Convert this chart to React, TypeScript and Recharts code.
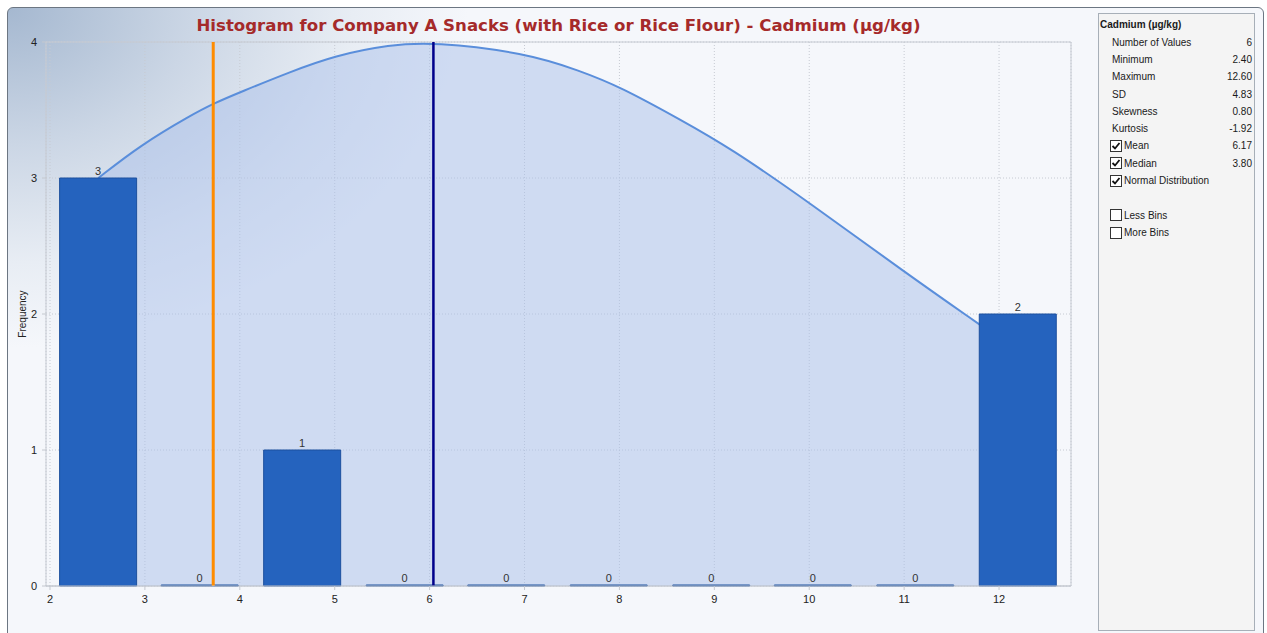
import React from "react";
import {
  ComposedChart, Bar, Area, XAxis, YAxis, CartesianGrid, ReferenceLine, ReferenceArea, LabelList,
} from "recharts";

// histogram bins (centres on the drawn axis) and their counts
const binCenters = [2.51, 3.58, 4.66, 5.74, 6.81, 7.89, 8.97, 10.04, 11.12, 12.2];
const binCounts = [3, 0, 1, 0, 0, 0, 0, 0, 0, 2];

// normal distribution curve
const curveX = [2.51, 2.95, 3.48, 3.73, 4.0, 4.53, 5.0, 5.58, 6.04, 7.01, 7.58, 8.01, 8.64, 9.17, 10.0, 11.0, 11.8];
const curveY = [3.0, 3.24, 3.46, 3.55, 3.63, 3.78, 3.9, 3.98, 4.0, 3.92, 3.79, 3.67, 3.43, 3.22, 2.82, 2.31, 1.92];

const xTicks = [2, 3, 4, 5, 6, 7, 8, 9, 10, 11, 12];
const yTicks = [0, 1, 2, 3, 4];
const xDomain: [number, number] = [1.958, 12.758];

// where the marker lines sit on the drawn axis
const medianLineX = 3.72;
const meanLineX = 6.04;

const title = "Histogram for Company A Snacks (with Rice or Rice Flour) - Cadmium (µg/kg)";
const statsTitle = "Cadmium (µg/kg)";
const statLabels = ["Number of Values", "Minimum", "Maximum", "SD", "Skewness", "Kurtosis"];
const statValues = ["6", "2.40", "12.60", "4.83", "0.80", "-1.92"];
const checkLabels = ["Mean", "Median", "Normal Distribution"];
const checkValues = ["6.17", "3.80", ""];
const binOptions = ["Less Bins", "More Bins"];

const bars = binCenters.map((x, i) => ({ x, count: binCounts[i] }));
const curve = curveX.map((x, i) => ({ x, freq: curveY[i] }));

const FONT = "'Liberation Sans', Arial, sans-serif";
const ROW = 17.3;

function Box({ checked }: { checked: boolean }) {
  return (
    <svg width={12} height={12} style={{ position: "absolute", left: 11, top: (ROW - 12) / 2 }}>
      <rect x={0.5} y={0.5} width={11} height={11} fill="#fff" stroke="#333" />
      {checked && <polyline points="2.5,6 5,8.5 9.5,3" fill="none" stroke="#111" strokeWidth={1.8} />}
    </svg>
  );
}

function StatsPanel() {
  const row = (i: number) => ({ position: "absolute" as const, left: 0, right: 2, top: 2.35 + ROW * i, height: ROW, lineHeight: `${ROW}px` });
  return (
    <div style={{
      position: "absolute", left: 1098, top: 13, width: 155, height: 616, background: "#f4f4f4",
      border: "1px solid #a7afb8", fontFamily: FONT, fontSize: 10, color: "#1a1a1a",
    }}>
      <div style={{ ...row(0), left: 1, fontWeight: "bold" }}>{statsTitle}</div>
      {statLabels.map((l, i) => (
        <div key={l} style={row(i + 1)}>
          <span style={{ position: "absolute", left: 13 }}>{l}</span>
          <span style={{ position: "absolute", right: 0 }}>{statValues[i]}</span>
        </div>
      ))}
      {checkLabels.map((l, i) => (
        <div key={l} style={row(i + 1 + statLabels.length)}>
          <Box checked />
          <span style={{ position: "absolute", left: 25 }}>{l}</span>
          <span style={{ position: "absolute", right: 0 }}>{checkValues[i]}</span>
        </div>
      ))}
      {binOptions.map((l, i) => (
        <div key={l} style={row(i + 2 + statLabels.length + checkLabels.length)}>
          <Box checked={false} />
          <span style={{ position: "absolute", left: 25 }}>{l}</span>
        </div>
      ))}
    </div>
  );
}

export default function App() {
  return (
    <div style={{ position: "fixed", left: 0, top: 0, width: 1267, height: 633, background: "#fff", overflow: "hidden" }}>
      <div style={{
        position: "absolute", left: 7, top: 7, width: 1255, height: 640, border: "1px solid #6c7682", borderRadius: 6,
        background: "radial-gradient(ellipse 460px 340px at 0 0, #a5b8d0 0%, #cbd6e5 40%, #e8edf4 75%, #f5f7fb 100%) #f5f7fb",
      }} />
      <div style={{
        position: "absolute", left: 0, top: 17, width: 1117, textAlign: "center", fontFamily: "'DejaVu Sans', Verdana, sans-serif",
        fontWeight: "bold", fontSize: 16.6, lineHeight: "17px", color: "#a52a2a", whiteSpace: "nowrap",
      }}>{title}</div>
      <div style={{ position: "absolute", left: 0, top: 0 }}>
        <ComposedChart width={1090} height={633} data={bars} margin={{ top: 42, right: 19, bottom: 17, left: 0 }}>
          <CartesianGrid stroke="#c6cad2" strokeDasharray="1 2" />
          <XAxis dataKey="x" type="number" domain={xDomain} ticks={xTicks} interval={0} allowDataOverflow
            height={30} tickSize={4} tickMargin={5} stroke="#c4c8cf"
            tick={{ fontSize: 11, fill: "#222", fontFamily: FONT }} />
          <XAxis xAxisId="bins" dataKey="x" type="number" domain={xDomain} ticks={binCenters} allowDataOverflow hide height={30} />
          <YAxis domain={[0, 4]} ticks={yTicks} width={46} tickSize={4} tickMargin={5} axisLine={false}
            stroke="#c4c8cf" tick={{ fontSize: 11, fill: "#222", fontFamily: FONT }}
            label={{ value: "Frequency", angle: -90, position: "insideLeft", offset: 22,
              style: { textAnchor: "middle", fontSize: 10, fill: "#222", fontFamily: FONT } }} />
          <ReferenceArea x1={xDomain[0]} x2={xDomain[1]} y1={0} y2={4} fill="none" stroke="#c6cad2" />
          <Area data={curve} dataKey="freq" type="basis" stroke="#5a8edb" strokeWidth={2}
            fill="#a9c0ea" fillOpacity={0.5} dot={false} activeDot={false} isAnimationActive={false} />
          <Bar xAxisId="bins" dataKey="count" barSize={77} minPointSize={1} fill="#2563be" stroke="#1d509e" isAnimationActive={false}>
            <LabelList dataKey="count" position="top" offset={3} fill="#333" fontSize={11} fontFamily={FONT} />
          </Bar>
          <ReferenceLine x={medianLineX} stroke="#ff8c00" strokeWidth={3} />
          <ReferenceLine x={meanLineX} stroke="#00008b" strokeWidth={2.5} />
        </ComposedChart>
      </div>
      <StatsPanel />
    </div>
  );
}
